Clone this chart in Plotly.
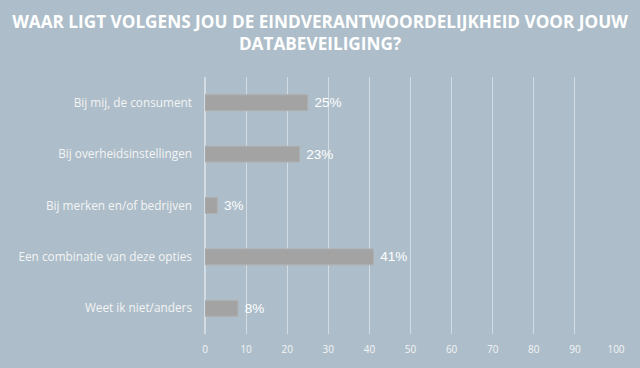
import plotly.graph_objects as go

categories = ["Bij mij, de consument", "Bij overheidsinstellingen", "Bij merken en/of bedrijven",
              "Een combinatie van deze opties", "Weet ik niet/anders"]
values = [25, 23, 3, 41, 8]
labels = ["25%", "23%", "3%", "41%", "8%"]
tick_vals = [0, 10, 20, 30, 40, 50, 60, 70, 80, 90, 100]

bg = "#adbeca"
grid = "#d3dce2"

fig = go.Figure(go.Bar(
    x=values, y=categories, orientation="h",
    marker=dict(color="#a3a3a3", line=dict(color="#b0b0b0", width=1)),
    text=labels, texttemplate=" %{text}", textposition="outside",
    textfont=dict(family="Liberation Sans, Arial", size=13.5, color="#ffffff"),
    cliponaxis=False, width=0.31,
))

fig.update_layout(
    width=640, height=368,
    paper_bgcolor=bg, plot_bgcolor=bg,
    margin=dict(l=205, r=24, t=77, b=31),
    title=dict(text="WAAR LIGT VOLGENS JOU DE EINDVERANTWOORDELIJKHEID VOOR JOUW<br>DATABEVEILIGING?",
               x=0.5, xanchor="center", yref="container", y=0.925, yanchor="middle",
               font=dict(family="Open Sans", size=17.2, color="#ffffff", weight="bold")),
    showlegend=False,
    xaxis=dict(range=[0, 100], tickvals=tick_vals, showgrid=True, gridcolor=grid, gridwidth=1,
               zeroline=True, zerolinecolor=grid, ticks="", ticklabelstandoff=8,
               tickfont=dict(family="Open Sans", size=10, color="#f4f4f4"), showline=False),
    yaxis=dict(autorange="reversed", ticks="", ticklabelstandoff=12,
               tickfont=dict(family="Open Sans", size=11.8, color="#f4f4f4"), showgrid=False),
)

fig.write_html("out.html", config={"displayModeBar": False},
               post_script="document.body.style.margin='0';document.body.style.overflow='hidden';")
